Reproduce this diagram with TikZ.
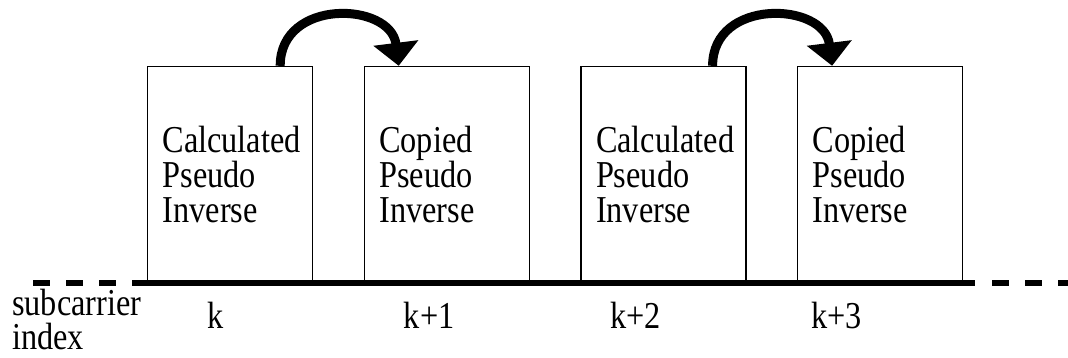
\documentclass[tikz,border=0pt]{standalone}
\usepackage{fontspec}
\setmainfont[FakeStretch=0.85]{Liberation Serif}
\usetikzlibrary{positioning,arrows.meta}
\begin{document}
\begin{tikzpicture}[x=1pt, y=1pt, >={Triangle[length=23pt,width=44pt]}, node distance=50.5pt]
    \tikzset{
        block/.style={rectangle, draw, line width=1.2pt, minimum width=165pt, minimum height=216pt, inner xsep=15pt, text width=135pt, align=left, font=\fontsize{38}{35}\selectfont},
        idx/.style={font=\fontsize{38}{34}\selectfont, inner sep=0pt, anchor=base west, align=left},
        axis/.style={line width=6pt},
        hop/.style={->, line width=9pt}
    }
    \useasboundingbox (0,0) rectangle (1068,358);

        \node[block, anchor=south west] (A) at (147,75) {Calculated\\Pseudo\\Inverse};
        \node[block] (B) [right=of A] {Copied\\Pseudo\\Inverse};
        \node[block] (C) [right=of B] {Calculated\\Pseudo\\Inverse};
        \node[block] (D) [right=of C] {Copied\\Pseudo\\Inverse};

        % subcarrier axis
        \coordinate (axL) at (33,74.7);
        \coordinate (axS) at (133,74.7);
        \coordinate (axE) at (975,74.7);
        \coordinate (axR) at (992,74.7);
        \coordinate (axF) at (1068,74.7);
        \draw[axis, dash pattern=on 17pt off 16pt] (axL) -- (axS);
        \draw[axis] (axS) -- (axE);
        \draw[axis, dash pattern=on 17pt off 16pt] (axR) -- (axF);

        \node[idx] (sub) at (12,8) {subcarrier\\index};
        \node[idx] (kA) at ([xshift=60pt,yshift=-46pt]A.south west) {k};
        \node[idx] (kB) at ([xshift=40pt,yshift=-46pt]B.south west) {k+1};
        \node[idx] (kC) at ([xshift=30pt,yshift=-46pt]C.south west) {k+2};
        \node[idx] (kD) at ([xshift=14pt,yshift=-46pt]D.south west) {k+3};

        \draw[hop] ([xshift=-33pt]A.north east) .. controls +(0,68) and +(-8,64) .. ([xshift=35pt]B.north west);
        \draw[hop] ([xshift=-34pt]C.north east) .. controls +(0,68) and +(-8,64) .. ([xshift=35pt]D.north west);

    \end{tikzpicture}
\end{document}
